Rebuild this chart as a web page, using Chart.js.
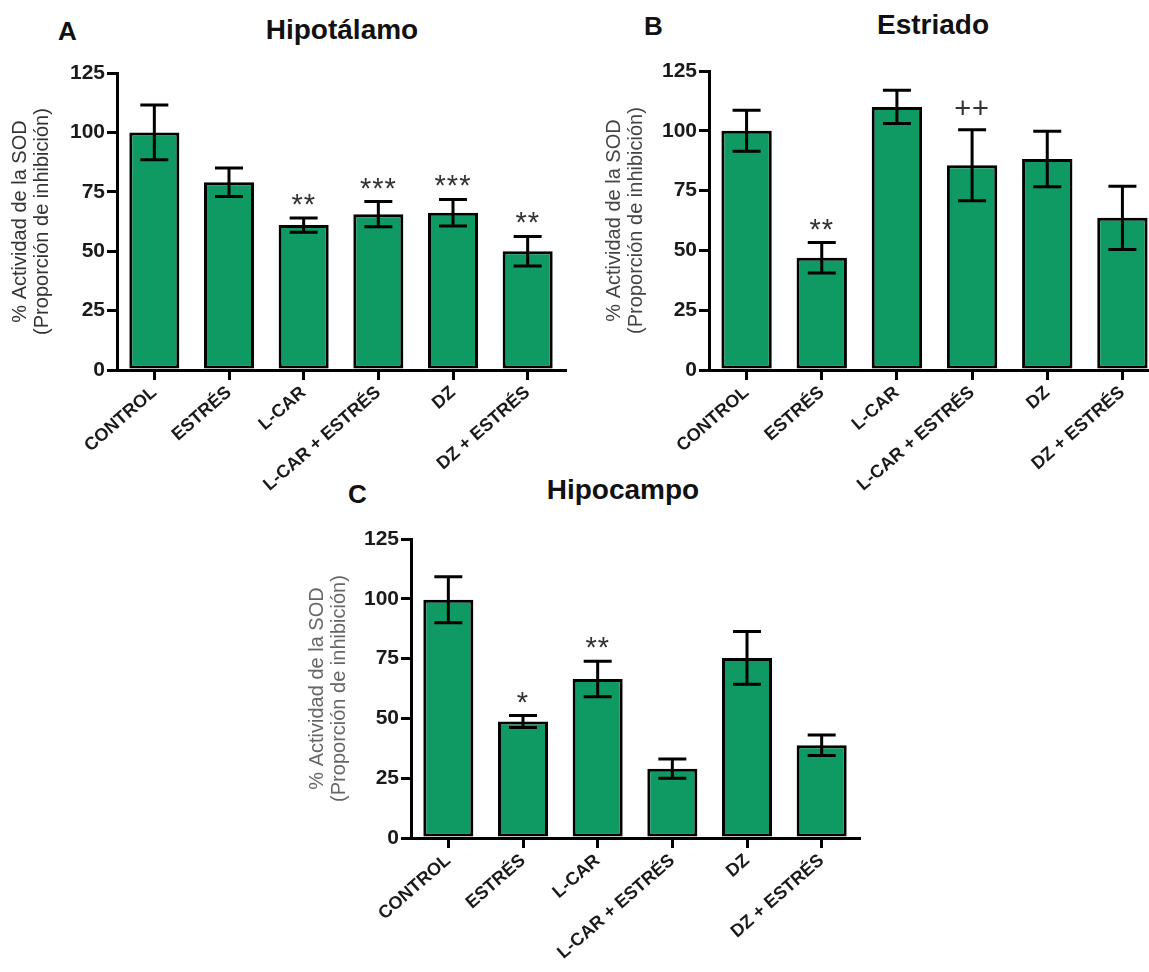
<!DOCTYPE html>
<html>
<head>
<meta charset="utf-8">
<script src="https://cdn.jsdelivr.net/npm/chart.js@4.4.1/dist/chart.umd.min.js"></script>
<style>
  html, body { margin: 0; padding: 0; background: #fff; }
  body { position: relative; width: 1149px; height: 972px; overflow: hidden; font-family: "Liberation Sans", Arial, sans-serif; }
  canvas { position: absolute; }
  .lbl { position: absolute; font-weight: bold; line-height: 1; color: #111; white-space: nowrap; font-size: 26px; }
  .ttl { position: absolute; font-weight: bold; line-height: 1; color: #111; white-space: nowrap; transform: translateX(-50%); font-size: 28px; }
</style>
</head>
<body>
<div class="lbl" style="left:58px; top:18px;">A</div>
<div class="ttl" style="left:342px; top:16px;">Hipotálamo</div>
<div class="lbl" style="left:644px; top:13px;">B</div>
<div class="ttl" style="left:933px; top:11px;">Estriado</div>
<div class="lbl" style="left:348px; top:481px;">C</div>
<div class="ttl" style="left:623px; top:476px;">Hipocampo</div>

<canvas id="chartA" width="580" height="500" style="left:0px; top:0px;"></canvas>
<canvas id="chartB" width="600" height="500" style="left:580px; top:0px;"></canvas>
<canvas id="chartC" width="600" height="502" style="left:290px; top:470px;"></canvas>

<script>
// groups and tick labels
var groups = ['CONTROL', 'ESTRÉS', 'L-CAR', 'L-CAR + ESTRÉS', 'DZ', 'DZ + ESTRÉS'];
var yTicks = [0, 25, 50, 75, 100, 125];
var yTitle = ['% Actividad de la SOD', '(Proporción de inhibición)'];

// Hipotálamo
var hipotalamoMean = [100, 79, 61, 65.6, 66.2, 50];
var hipotalamoErr = [11.5, 6, 3, 5.3, 5.6, 6.2];
var hipotalamoSig = ['', '', '**', '***', '***', '**'];

// Estriado
var estriadoMean = [100, 46.9, 110, 85.6, 88.2, 63.6];
var estriadoErr = [8.6, 6.4, 7, 14.8, 11.6, 13.2];
var estriadoSig = ['', '**', '', '++', '', ''];

// Hipocampo
var hipocampoMean = [99.6, 48.7, 66.5, 29, 75.3, 38.8];
var hipocampoErr = [9.6, 2.5, 7.4, 4, 11, 4.3];
var hipocampoSig = ['', '*', '**', '', '', ''];

var green = '#0e9a62';

// draws error bars + significance marks using the chart's own scales
var errorBars = {
    id: 'errorBars',
    afterDatasetsDraw: function(chart, args, opts) {
        var ctx = chart.ctx;
        var y = chart.scales.y;
        var meta = chart.getDatasetMeta(0);
        var data = chart.data.datasets[0].data;
        ctx.save();
        ctx.strokeStyle = '#000';
        ctx.lineWidth = 3;
        meta.data.forEach(function(bar, i) {
            var top = y.getPixelForValue(data[i] + opts.err[i]);
            var bot = y.getPixelForValue(data[i] - opts.err[i]);
            ctx.beginPath();
            ctx.moveTo(bar.x, top);
            ctx.lineTo(bar.x, bot);
            ctx.moveTo(bar.x - 14, top);
            ctx.lineTo(bar.x + 14, top);
            ctx.moveTo(bar.x - 14, bot);
            ctx.lineTo(bar.x + 14, bot);
            ctx.stroke();
            var s = opts.sig[i];
            if (s) {
                ctx.fillStyle = '#333';
                ctx.font = '29px "Liberation Sans", Arial, sans-serif';
                ctx.letterSpacing = '1px';
                ctx.textAlign = 'center';
                ctx.textBaseline = 'alphabetic';
                var shift = s.indexOf('+') >= 0 ? 9 : 17;
                ctx.fillText(s, bar.x, top - 21 + shift);
            }
        });
        ctx.restore();
    }
};

function makeChart(id, means, errs, sig, lay) {
    var ctx = document.getElementById(id).getContext('2d');
    return new Chart(ctx, {
        type: 'bar',
        data: {
            labels: groups,
            datasets: [{
                data: means,
                backgroundColor: green,
                borderColor: '#000',
                borderWidth: 3,
                borderSkipped: false,
                barPercentage: 0.67,
                categoryPercentage: 1
            }]
        },
        options: {
            responsive: false,
            animation: false,
            devicePixelRatio: 1,
            layout: {
                autoPadding: false,
                padding: { top: lay.top, right: lay.right, left: 0, bottom: 0 }
            },
            plugins: {
                legend: { display: false },
                tooltip: { enabled: false },
                errorBars: { err: errs, sig: sig }
            },
            scales: {
                x: {
                    grid: {
                        display: true, drawOnChartArea: false, offset: false,
                        tickLength: 10, lineWidth: 3, color: '#000'
                    },
                    border: { display: true, width: 3, color: '#000' },
                    ticks: {
                        minRotation: 41, maxRotation: 41, padding: 2,
                        color: '#1a1a1a',
                        font: { family: '"Liberation Sans", Arial, sans-serif', size: 18, weight: 'bold' }
                    },
                    afterFit: function(s) { s.height = lay.xh; }
                },
                y: {
                    min: 0, max: 125,
                    afterBuildTicks: function(s) {
                        s.ticks = yTicks.map(function(v) { return { value: v }; });
                    },
                    grid: {
                        display: true, drawOnChartArea: false,
                        tickLength: 10, lineWidth: 3, color: '#000'
                    },
                    border: { display: true, width: 3, color: '#000' },
                    ticks: {
                        padding: 2, color: '#1a1a1a',
                        font: { family: '"Liberation Sans", Arial, sans-serif', size: 21, weight: 'bold' }
                    },
                    title: {
                        display: true,
                        text: yTitle,
                        color: lay.titleColor,
                        padding: { top: lay.titlePad, bottom: 0 },
                        font: { family: '"Liberation Sans", Arial, sans-serif', size: 20, lineHeight: 1.1 }
                    },
                    afterFit: function(s) { s.width = lay.yw; }
                }
            }
        },
        plugins: [errorBars]
    });
}

makeChart('chartA', hipotalamoMean, hipotalamoErr, hipotalamoSig,
    { top: 73, right: 15, xh: 130, yw: 117, titlePad: 9, titleColor: '#333' });
makeChart('chartB', estriadoMean, estriadoErr, estriadoSig,
    { top: 71, right: 20, xh: 130, yw: 129, titlePad: 23, titleColor: '#444' });
makeChart('chartC', hipocampoMean, hipocampoErr, hipocampoSig,
    { top: 69, right: 31, xh: 134, yw: 121, titlePad: 16, titleColor: '#666' });
</script>
</body>
</html>
